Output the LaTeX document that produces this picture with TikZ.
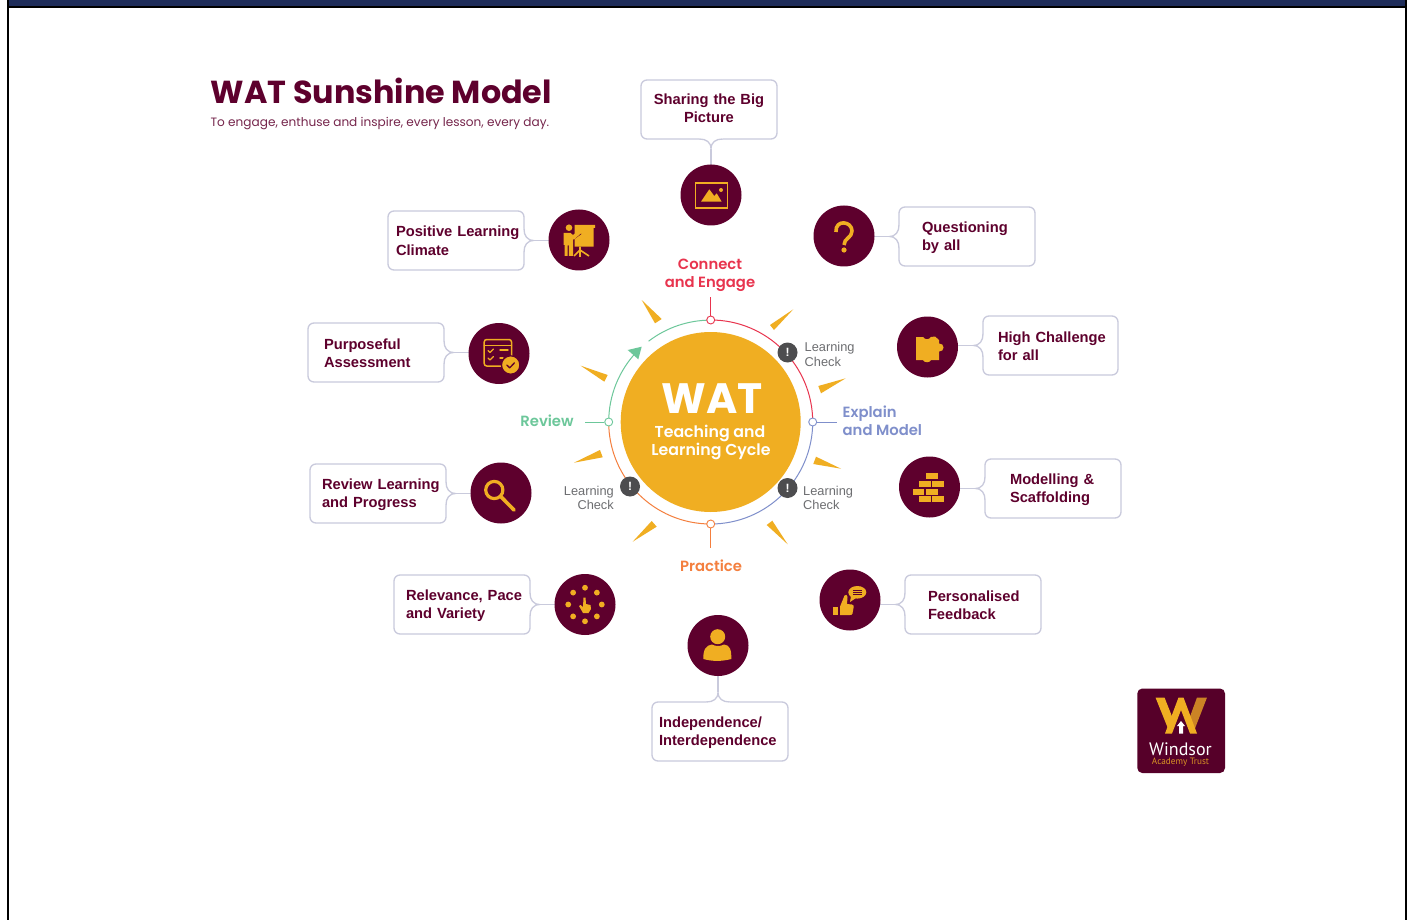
\documentclass[tikz,border=0pt]{standalone}
\usepackage{fontspec}
\setmainfont{Liberation Sans}
\newfontfamily\popf[BoldFont={Poppins SemiBold}]{Poppins}
\newfontfamily\popb{Poppins}
\newfontfamily\logof{PT Sans}
\usetikzlibrary{calc,backgrounds}
\definecolor{maroon}{HTML}{5E002D}
\definecolor{sun}{HTML}{F0AE22}
\definecolor{cred}{HTML}{E8344E}
\definecolor{cblue}{HTML}{7F8FCB}
\definecolor{cgreen}{HTML}{6CC79A}
\definecolor{corange}{HTML}{F47F3E}
\definecolor{edge}{HTML}{C9CADC}
\definecolor{navy}{HTML}{1F2D5A}
\definecolor{badgeg}{HTML}{4D4D4F}
\definecolor{lcg}{HTML}{6D6E71}
\tikzset{
  cbox/.style={draw=edge,line width=1.3pt,rounded corners=6pt,fill=white,inner xsep=0pt,inner ysep=0pt,outer sep=0pt,
    minimum height=59pt,text=maroon,font=\bfseries\fontsize{14.7}{18}\selectfont,align=left},
  edgeline/.style={draw=edge,line width=1.3pt},
  topic/.style={circle,fill=maroon,minimum size=61pt,inner sep=0pt},
  ray/.style={fill=sun,draw=none},
  ico/.style={fill=sun,draw=none},
  icoline/.style={draw=sun,line cap=round,line join=round},
  port/.style={circle,draw=#1,fill=white,line width=.9pt,minimum size=8pt,inner sep=0pt},
  badge/.style={circle,fill=badgeg,minimum size=20pt,inner sep=0pt,text=white,font=\bfseries\fontsize{12}{12}\selectfont},
  lc/.style={text=lcg,font=\fontsize{12.8}{14.5}\selectfont,inner sep=0pt},
  phase/.style={text=#1,font=\popf\bfseries\fontsize{14.8}{18}\selectfont,inner sep=0pt},
  corelabel/.style={text=white,inner sep=0pt,font=\popf\bfseries\fontsize{15.8}{18}\selectfont},
}
% callout box: name, left, top, width, pad, line 1, line 2
\newcommand\cbx[7]{\node[cbox,anchor=north west,text width=#4pt,minimum width=#4pt] (#1) at (#2,#3) {\hspace*{#5pt}\rule{0pt}{13pt}#6\\\hspace*{#5pt}\rule[-2pt]{0pt}{2pt}#7};}
% notch: box point, transform, tip name
\newcommand\stem[3]{%
  \begin{scope}[shift={(#1)},#2]
    \fill[white] (-1,-11.5) -- (0,-11.5) .. controls (0,-5) and (3,0) .. (10,0) .. controls (3,0) and (0,5) .. (0,11.5) -- (-1,11.5) -- cycle;
    \draw[edgeline] (0,-11.5) .. controls (0,-5) and (3,0) .. (10,0) .. controls (3,0) and (0,5) .. (0,11.5);
    \coordinate (#3) at (10,0);
  \end{scope}}
\begin{document}
\begin{tikzpicture}[x=1pt,y=-1pt]
\useasboundingbox (0,0) rectangle (1414,920);
\begin{scope}[on background layer]
\fill[white] (0,0) rectangle (1414,920);
% slide frame
\fill[navy] (7,0) rectangle (1407,6.5);
\fill[black] (7,6.5) rectangle (1407,8.5);
\fill[black] (7,0) rectangle (9,920);
\fill[black] (1405,0) rectangle (1407,920);
\end{scope}
% title
\node[anchor=base west,inner sep=0pt,text=maroon,font=\popb\bfseries\fontsize{31.8}{34}\selectfont] (title) at (210.5,103.5) {WAT Sunshine Model};
\node[anchor=base west,inner sep=0pt,text=maroon!85,font=\popb\fontsize{12.1}{14}\selectfont] (subtitle) at (210.5,126.5) {To engage, enthuse and inspire, every lesson, every day.};
% rays
\fill[ray] (641.7,300) -- (661.7,319) -- (655,323.3) -- cycle;
\fill[ray] (793.3,309.3) -- (770,325) -- (774,330) -- cycle;
\fill[ray] (845.7,378.3) -- (818.3,386) -- (821,393.3) -- cycle;
\fill[ray] (841,468.7) -- (816,456.7) -- (813.3,464) -- cycle;
\fill[ray] (787.7,544.3) -- (772.3,520.7) -- (766.7,525) -- cycle;
\fill[ray] (632.7,541.7) -- (651.7,521) -- (656.7,526.7) -- cycle;
\fill[ray] (574,462.7) -- (600,450) -- (602.7,457.3) -- cycle;
\fill[ray] (580.7,365.7) -- (607.7,375) -- (604.3,381.7) -- cycle;
% cycle
\node[circle,fill=sun,minimum size=180pt,inner sep=0pt] (core) at (710.7,422) {};
\coordinate (ringT) at (710.7,320);
\coordinate (ringR) at (812.7,422);
\coordinate (ringB) at (710.7,524);
\coordinate (ringL) at (608.7,422);
\coordinate (ringG) at (648.6,341.2);
\draw[cred,line width=1pt] (ringT) arc[start angle=90,end angle=0,radius=102pt];
\draw[cblue,line width=1pt] (ringR) arc[start angle=0,end angle=-90,radius=102pt];
\draw[corange,line width=1pt] (ringB) arc[start angle=-90,end angle=-180,radius=102pt];
\draw[cgreen,line width=1pt] (ringL) arc[start angle=180,end angle=136,radius=102pt];
\draw[cgreen,line width=1pt] (ringG) arc[start angle=127.5,end angle=90,radius=102pt];
\fill[cgreen] (641.7,346.7) -- (627.7,350) -- (638.3,359.3) -- cycle;
\node[port=cred] (pT) at (ringT) {};
\node[port=cblue] (pR) at (ringR) {};
\node[port=corange] (pB) at (ringB) {};
\node[port=cgreen] (pL) at (ringL) {};
\coordinate (endT) at (710.7,297);
\coordinate (endR) at (837,422);
\coordinate (endB) at (710.7,548);
\coordinate (endL) at (585,422);
\draw[cred,line width=1pt] (pT) -- (endT);
\draw[cblue,line width=1pt] (pR) -- (endR);
\draw[corange,line width=1pt] (pB) -- (endB);
\draw[cgreen,line width=1pt] (pL) -- (endL);
\node[text=white,inner sep=0pt,font=\popb\bfseries\fontsize{42.5}{44}\selectfont] (wat) at (712.5,399) {WAT};
\node[corelabel] (c1) at (710,433.5) {Teaching and};
\node[corelabel] (c2) at (711,451.5) {Learning Cycle};
\node[badge] (b1) at (787.5,352.5) {!};
\node[badge] (b2) at (787.5,488) {!};
\node[badge] (b3) at (630,486.5) {!};
\node[lc,anchor=west,align=left] (lc1) at (804.5,354.5) {Learning\\Check};
\node[lc,anchor=west,align=left] (lc2) at (803,498) {Learning\\Check};
\node[lc,anchor=east,align=right] (lc3) at (614,498) {Learning\\Check};
\node[phase=cred,align=center] (ph1) at (710,275) {Connect\\and Engage};
\node[phase=cblue,anchor=west,align=left] (ph2) at (842.5,420.5) {Explain\\and Model};
\node[phase=corange] (ph3) at (711,565.5) {Practice};
\node[phase=cgreen] (ph4) at (547,421) {Review};
% topics
\node[topic] (t1) at (711,195) {};
\node[topic] (t2) at (844,236) {};
\node[topic] (t3) at (927.5,347) {};
\node[topic] (t4) at (929.5,487) {};
\node[topic] (t5) at (850,600) {};
\node[topic] (t6) at (718,645.5) {};
\node[topic] (t7) at (585,604.5) {};
\node[topic] (t8) at (501,493) {};
\node[topic] (t9) at (499,353.5) {};
\node[topic] (t10) at (579,240) {};
% boxes
\node[cbox,anchor=north west,text width=136pt,minimum width=136pt,align=center] (s1) at (641,80) {\rule{0pt}{11.5pt}Sharing the Big\\\rule[-3.5pt]{0pt}{3.5pt}Picture};
\cbx{s2}{899}{207}{136}{23}{Questioning}{by all}
\cbx{s3}{983}{316}{135}{15}{High Challenge}{for all}
\cbx{s4}{985}{459}{136}{25}{Modelling \&}{Scaffolding}
\cbx{s5}{905}{575}{136}{23}{Personalised}{Feedback}
\cbx{s6}{652}{702}{136}{7}{Independence/}{Interdependence}
\cbx{s7}{394}{575}{136}{12}{Relevance, Pace}{and Variety}
\cbx{s8}{310}{464}{136}{12}{Review Learning}{and Progress}
\cbx{s9}{308}{323}{136}{16}{Purposeful}{Assessment}
\cbx{s10}{388}{211}{136}{8}{Positive Learning}{Climate}
% notches
\stem{s1.south -| t1}{rotate=-90}{k1}
\stem{s2.west}{xscale=-1}{k2}
\stem{s3.west}{xscale=-1}{k3}
\stem{s4.west}{xscale=-1}{k4}
\stem{s5.west}{xscale=-1}{k5}
\stem{s6.north -| t6}{rotate=90}{k6}
\stem{s7.east}{}{k7}
\stem{s8.east}{}{k8}
\stem{s9.east}{}{k9}
\stem{s10.east}{}{k10}
% connectors
\begin{scope}[on background layer]
\draw[edgeline] (k1) -- (k1 |- t1);
\draw[edgeline] (k2) -- (k2 -| t2);
\draw[edgeline] (k3) -- (k3 -| t3);
\draw[edgeline] (k4) -- (k4 -| t4);
\draw[edgeline] (k5) -- (k5 -| t5);
\draw[edgeline] (k6) -- (k6 |- t6);
\draw[edgeline] (k7) -- (k7 -| t7);
\draw[edgeline] (k8) -- (k8 -| t8);
\draw[edgeline] (k9) -- (k9 -| t9);
\draw[edgeline] (k10) -- (k10 -| t10);
\end{scope}
% icon: picture
\draw[icoline,line width=1.6pt,line cap=butt,line join=miter] (695.5,183) rectangle (727.5,208);
\fill[ico] (701,201.7) -- (709.3,189.3) -- (714.3,196) -- (716.7,193.3) -- (721.7,201.7) -- cycle;
\fill[ico] (721,190) circle (2);
% icon: question mark
\draw[icoline,line width=3.6pt,line cap=butt] (836,232) .. controls (835,219) and (852,221) .. (852,231) .. controls (852,238) and (844,238) .. (844,245);
\fill[ico] (844,250) circle (2.6);
% icon: puzzle
\fill[ico] (916,337) -- (923,337) .. controls (925,340) and (929,340) .. (931,337) -- (935,336.5) -- (939,340) -- (939,343.5) .. controls (945,343) and (945,352) .. (939,351.5) -- (939,360) -- (931,360) .. controls (930,363) and (924,363) .. (923,360) -- (916,360) -- cycle;
% icon: bricks
\fill[ico] (926,473.3) rectangle (937.7,479.3);
\fill[ico] (919.3,481) rectangle (930.7,487.3);
\fill[ico] (932.3,481) rectangle (944,487.3);
\fill[ico] (912.7,488.5) rectangle (924,494.8);
\fill[ico] (926,488.5) rectangle (937.7,494.8);
\fill[ico] (919.3,496) rectangle (930.7,502.3);
\fill[ico] (932.3,496) rectangle (944,502.3);
% icon: thumb and bubble
\fill[ico] (833.3,606.7) rectangle (838.3,615);
\fill[ico] (840,606.7) -- (844.5,595.5) .. controls (846,594) and (847.5,595) .. (847.5,597) -- (847,604) -- (852,604.5) .. controls (854,605) and (854,606) .. (853.5,608) -- (852.5,613.5) .. controls (852,615) and (851,615) .. (850,615) -- (840,615) -- cycle;
\fill[ico] (857.3,592.3) ellipse (9 and 6.3);
\fill[ico] (851,596) -- (850,602) -- (856,598) -- cycle;
\draw[maroon,line width=.8pt] (853,590) -- (861.5,590) (853,592.3) -- (861.5,592.3) (853,594.6) -- (861.5,594.6);
% icon: person
\fill[ico] (717.7,636.7) circle (7.5);
\fill[ico] (703.3,659) .. controls (703,650) and (706,645) .. (712,644.5) .. controls (716,646.5) and (720,646.5) .. (724,644.5) .. controls (730,645) and (731.5,650) .. (731.3,659) .. controls (722,661.5) and (712,661.5) .. (703.3,659) -- cycle;
% icon: dots and hand
\foreach \a in {0,45,...,315}{\fill[ico] ($(585,604.5)+(\a:16.8)$) circle (2.9);}
\fill[ico] (583.5,597.5) -- (585.5,597.5) -- (586,604) -- (590.5,605) -- (591,609) -- (588.5,613) -- (583,613) -- (579,606) -- (580.5,605) -- (583,607) -- cycle;
% icon: magnifier
\draw[icoline,line width=3.2pt] (494.3,490) circle (8.6);
\draw[icoline,line width=3.6pt] (500.8,496.5) -- (514,510);
% icon: assessment
\draw[icoline,line width=1.5pt,rounded corners=2.5pt] (484.2,339.5) rectangle (511.5,366);
\draw[icoline,line width=1.3pt] (484.2,345.3) -- (511.5,345.3);
\draw[icoline,line width=1.2pt] (488,350.5) -- (490,352.5) -- (493.5,349) (488,358) -- (490,360) -- (493.5,356.5);
\draw[icoline,line width=1.4pt] (500,350) -- (508,350) (500,358) -- (503,358);
\fill[ico,draw=maroon,line width=1.2pt] (510.7,365) circle (9.2);
\draw[maroon,line width=1.3pt,line cap=round,line join=round] (506.8,365) -- (509.7,367.8) -- (514.5,362.8);
% icon: presenter
\fill[ico] (574.5,225) -- (595,225) -- (595,228) -- (593.5,228) -- (593.5,246.7) -- (574.5,246.7) -- cycle;
\draw[maroon,line width=1.4pt] (574,238.5) -- (581,233.5);
\fill[ico] (569,227.7) circle (3.3);
\fill[ico] (563.5,233) -- (570.5,233) -- (573,235) -- (580,229.5) -- (582.5,232) -- (574,239.5) -- (573,239.5) -- (573,256) -- (568.8,256) -- (568.8,245.5) -- (567.6,245.5) -- (567.6,256) -- (564.5,256) -- (564.5,245) -- (563.5,245) -- cycle;
\draw[icoline,line width=1.6pt,line cap=butt] (580,246.7) -- (580,257) (580,250) -- (574,256) (580,250) -- (589,256);
% logo
\fill[maroon!92!black,rounded corners=5pt] (1137.3,688.5) rectangle (1225,773);
\fill[sun] (1155.5,697.5) -- (1164.5,697.5) -- (1175,724) -- (1170,733.5) -- cycle;
\fill[sun!75!maroon] (1197,697.5) -- (1207,697.5) -- (1193,733.5) -- (1188,722) -- cycle;
\fill[sun] (1165,733.5) -- (1178.5,697.5) -- (1183.5,697.5) -- (1197,733.5) -- (1190,733.5) -- (1181,710) -- (1172,733.5) -- cycle;
\fill[white] (1181,721) -- (1185,726) -- (1183,726) -- (1183,733.5) -- (1179,733.5) -- (1179,726) -- (1177,726) -- cycle;
\node[text=white,inner sep=0pt,font=\logof\fontsize{18}{20}\selectfont] (logo1) at (1180.5,749.5) {Windsor};
\node[text=sun!85!maroon,inner sep=0pt,font=\logof\fontsize{9.2}{10}\selectfont] (logo2) at (1180.5,762.5) {Academy Trust};
\end{tikzpicture}
\end{document}
